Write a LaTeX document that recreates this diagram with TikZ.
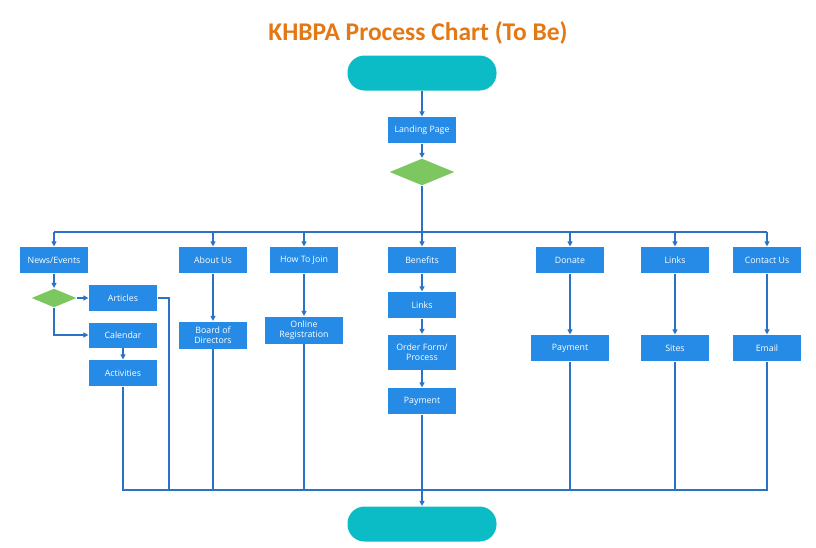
\documentclass[tikz,border=0pt]{standalone}
\usepackage{fontspec}
\usetikzlibrary{shapes.geometric,arrows.meta}
\newfontfamily\titlefont{Carlito}
\newfontfamily\boxfont{Open Sans}
\definecolor{boxblue}{RGB}{37,139,230}
\definecolor{lineblue}{RGB}{42,114,200}
\definecolor{decgreen}{RGB}{125,199,96}
\definecolor{termteal}{RGB}{11,188,198}
\definecolor{titleorange}{RGB}{228,120,20}
\begin{document}
\begin{tikzpicture}[x=1pt,y=-1pt,>={Triangle[length=5pt,width=5pt]},
    line width=1.2pt,
    proc/.style={rectangle,fill=boxblue,text=white,font=\boxfont\fontsize{8.8}{9.6}\selectfont,align=center,inner sep=0pt,minimum width=68pt,minimum height=26pt},
    term/.style={rectangle,rounded corners=17pt,fill=termteal,minimum width=149pt,minimum height=35pt},
    dec/.style={diamond,fill=decgreen,inner sep=0pt,aspect=2.4},
    link/.style={draw=lineblue,line width=1.2pt}]
    \useasboundingbox (0,0) rectangle (816,547);
    \node[font=\titlefont\fontsize{25.5}{27}\selectfont\bfseries,text=titleorange] (title) at (418,33) {KHBPA Process Chart (To Be)};
    % start and landing page
    \node[term] (start) at (422,73) {};
    \node[proc] (landing) at (422,130) {Landing Page};
    \node[dec,minimum width=65pt,minimum height=27pt] (dec1) at (422,172) {};
    % top row
    \node[proc] (news) at (54,260) {News/Events};
    \node[proc] (about) at (213,260) {About Us};
    \node[proc] (join) at (304,260) {How To Join};
    \node[proc] (benefits) at (422,260) {Benefits};
    \node[proc] (donate) at (570,260) {Donate};
    \node[proc] (links) at (675,260) {Links};
    \node[proc] (contact) at (767,260) {Contact Us};
    % news column
    \node[dec,minimum width=45pt,minimum height=19pt] (dec2) at (54,298) {};
    \node[proc] (articles) at (123,298) {Articles};
    \node[proc,minimum height=25pt] (calendar) at (123,335) {Calendar};
    \node[proc] (activities) at (123,373) {Activities};
    % second row
    \node[proc,minimum height=27pt] (board) at (213,335) {Board of\\Directors};
    \node[proc,minimum width=78pt,minimum height=27pt] (register) at (304,330) {Online\\Registration};
    \node[proc] (benlinks) at (422,305) {Links};
    \node[proc,minimum height=35pt] (order) at (422,352) {Order Form/\\Process};
    \node[proc] (benpay) at (422,401) {Payment};
    \node[proc,minimum width=78pt] (donpay) at (570,348) {Payment};
    \node[proc] (sites) at (675,348) {Sites};
    \node[proc] (email) at (767,348) {Email};
    \node[term] (stop) at (422,524) {};
    % bus coordinates
    \coordinate (topL) at (54,232);
    \coordinate (topR) at (767,232);
    \foreach \n/\x in {about/213,join/304,donate/570,links/675}
        {\coordinate (top\n) at (\x,232);}
    \coordinate (botL) at (123,490);
    \coordinate (botR) at (767,490);
    \coordinate (artbend) at (169,298);
    \foreach \n/\x in {art/169,board/213,register/304,donpay/570,sites/675}
        {\coordinate (bot\n) at (\x,490);}
    % connectors
    \draw[link,->] (start) -- (landing);
    \draw[link,->] (landing) -- (dec1);
    \draw[link,->] (dec1) -- (benefits);
    \draw[link] (topL) -- (topR);
    \draw[link,->] (topL) -- (news);
    \draw[link,->] (topR) -- (contact);
    \foreach \n in {about,join,donate,links}
        {\draw[link,->] (top\n) -- (\n);}
    \draw[link,->] (news) -- (dec2);
    \draw[link,->] (dec2) -- (articles);
    \draw[link,->] (dec2) |- (calendar);
    \draw[link,->] (calendar) -- (activities);
    \draw[link,->] (about) -- (board);
    \draw[link,->] (join) -- (register);
    \draw[link,->] (benefits) -- (benlinks);
    \draw[link,->] (benlinks) -- (order);
    \draw[link,->] (order) -- (benpay);
    \draw[link,->] (donate) -- (donpay);
    \draw[link,->] (links) -- (sites);
    \draw[link,->] (contact) -- (email);
    % bottom bus
    \draw[link] (activities) -- (botL) -- (botR) -- (email);
    \draw[link] (articles) -- (artbend) -- (botart);
    \foreach \n in {board,register,donpay,sites}
        {\draw[link] (\n) -- (bot\n);}
    \draw[link,->] (benpay) -- (stop);
\end{tikzpicture}
\end{document}
